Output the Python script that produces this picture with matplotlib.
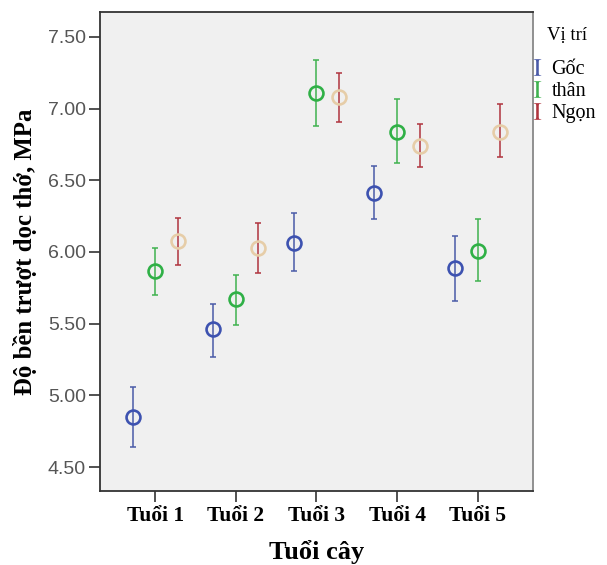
import numpy as np
import matplotlib.pyplot as plt
from matplotlib.lines import Line2D

plt.rcParams["mathtext.fontset"] = "stix"

ages = ["Tuổi 1", "Tuổi 2", "Tuổi 3", "Tuổi 4", "Tuổi 5"]
positions = ["Gốc", "thân", "Ngọn"]

# means and upper / lower ends of the error bars
goc_mean = [4.85, 5.46, 6.06, 6.41, 5.89]
goc_hi = [5.06, 5.64, 6.27, 6.60, 6.11]
goc_lo = [4.64, 5.27, 5.87, 6.23, 5.66]

than_mean = [5.87, 5.67, 7.11, 6.84, 6.01]
than_hi = [6.03, 5.84, 7.34, 7.07, 6.23]
than_lo = [5.70, 5.49, 6.88, 6.62, 5.80]

ngon_mean = [6.08, 6.03, 7.08, 6.74, 6.84]
ngon_hi = [6.24, 6.20, 7.25, 6.89, 7.03]
ngon_lo = [5.91, 5.85, 6.91, 6.59, 6.66]

yticks = [4.5, 5.0, 5.5, 6.0, 6.5, 7.0, 7.5]

bar_colors = ["#4a5aa8", "#3fb24f", "#b0343e"]
marker_colors = ["#3d52b0", "#2fb046", "#e6cda8"]
offsets = [-0.28, 0.0, 0.28]

fig = plt.figure(figsize=(6.07, 5.65), dpi=100)
ax = fig.add_axes([0.1647, 0.131, 0.7133, 0.8478])
ax.set_facecolor("#f0f0f0")

x = np.arange(1, len(ages) + 1)
series = [(goc_mean, goc_hi, goc_lo), (than_mean, than_hi, than_lo), (ngon_mean, ngon_hi, ngon_lo)]
for i, (m, hi, lo) in enumerate(series):
    m = np.array(m); hi = np.array(hi); lo = np.array(lo)
    ax.errorbar(x + offsets[i], m, yerr=[m - lo, hi - m], fmt="none",
                ecolor=bar_colors[i], elinewidth=1.1, capsize=2.5, capthick=1.1, zorder=2)
    ax.plot(x + offsets[i], m, "o", markersize=10, markerfacecolor="none",
            markeredgecolor=marker_colors[i], markeredgewidth=1.9, zorder=3)

ax.set_xlim(0.3125, 5.6875)
ax.set_ylim(4.333, 7.674)
ax.set_xticks(x)
ax.set_xticklabels(ages, family="Liberation Serif", fontweight="bold", fontsize=15.5)
ax.set_yticks(yticks)
ax.set_yticklabels(["%.2f" % v for v in yticks], family="Liberation Sans", fontsize=14, color="#555555")
ax.tick_params(axis="y", length=8, width=1.2, color="#333333", pad=2)
ax.tick_params(axis="x", length=8, width=1.2, color="#333333", pad=3)

for s in ["left", "bottom", "top"]:
    ax.spines[s].set_color("#333333")
    ax.spines[s].set_linewidth(1.3)
ax.spines["right"].set_color("#888888")
ax.spines["right"].set_linewidth(1.3)

ax.set_ylabel("Độ bền trượt dọc thớ, MPa", family="Liberation Serif", fontweight="bold", fontsize=17.8, labelpad=8)
ax.set_xlabel("Tuổi cây", family="Liberation Serif", fontweight="bold", fontsize=19, labelpad=10)

# legend title placed on its own, entries below it
fig.text(547 / 607, 1 - 35 / 565, "Vị trí", ha="left", va="center",
         family="Liberation Serif", fontsize=13.5)
handles = [Line2D([], [], color=bar_colors[i], marker="$\\mathrm{I}$", linestyle="None",
                  markersize=12, markeredgewidth=0)
           for i in range(3)]
leg = fig.legend(handles, positions, loc="upper left", bbox_to_anchor=(0.852, 1 - 46 / 565),
                 frameon=False, prop={"family": "Liberation Serif", "size": 14.5},
                 handlelength=0.6, handletextpad=0.4, labelspacing=0.15, borderpad=0.2)

fig.savefig("out.png", dpi=100)
